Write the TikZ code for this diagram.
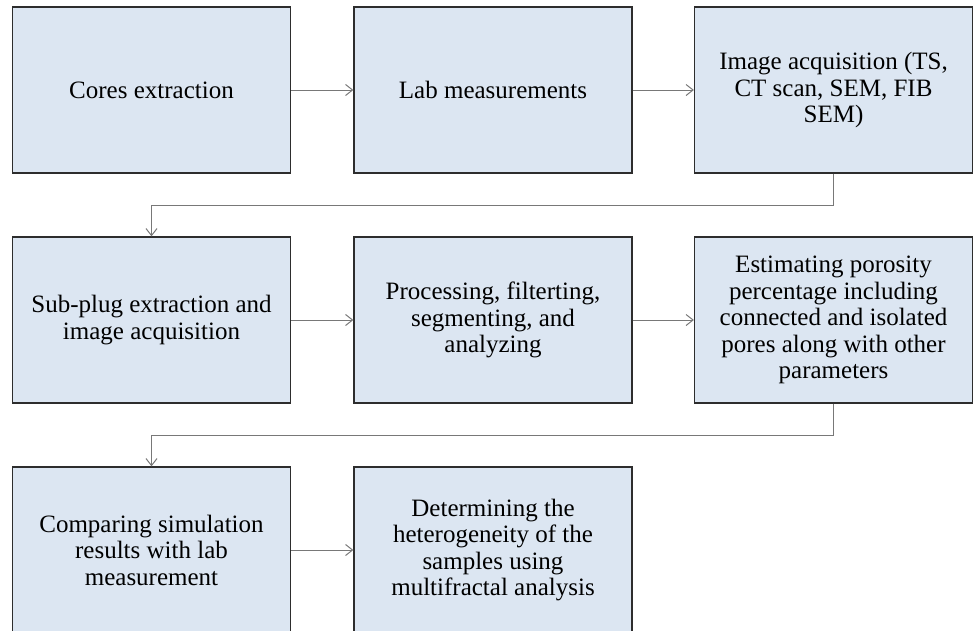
\documentclass[tikz,border=0pt]{standalone}
\usepackage{fontspec}
\setmainfont{Liberation Serif}
\usepackage{tikz}
\usetikzlibrary{arrows.meta, positioning, calc}
\definecolor{boxblue}{RGB}{220,230,242}
\definecolor{boxline}{RGB}{45,45,45}
\definecolor{flowgray}{RGB}{120,120,120}

\tikzset{
  procbox/.style={draw=boxline, fill=boxblue, line width=1.3pt, minimum width=278pt,
    minimum height=166pt, inner sep=0pt, align=center,
    font=\fontsize{25}{26.5}\selectfont},
  flow/.style={draw=flowgray, line width=1pt, -{Straight Barb[length=7pt, width=11pt]}}
}

\begin{document}
\begin{tikzpicture}[x=1pt, y=-1pt]
\useasboundingbox (0,0) rectangle (974,630);
\clip (0,0) rectangle (974,630);
\pgfmathsetmacro{\colA}{151.5}
\pgfmathsetmacro{\colB}{493}
\pgfmathsetmacro{\colC}{833.5}
\pgfmathsetmacro{\rowA}{90}
\pgfmathsetmacro{\rowB}{320}
\pgfmathsetmacro{\rowC}{550}

% first row
\node[procbox] (cores) at (\colA,\rowA) {Cores extraction};
\node[procbox] (lab) at (\colB,\rowA) {Lab measurements};
\node[procbox] (imaging) at (\colC,\rowA) {Image acquisition (TS,\\CT scan, SEM, FIB\\SEM)};

% second row
\node[procbox] (subplug) at (\colA,\rowB) {Sub-plug extraction and\\image acquisition};
\node[procbox] (process) at (\colB,\rowB) {Processing, filterting,\\segmenting, and\\analyzing};
\node[procbox] (porosity) at (\colC,\rowB) {Estimating porosity\\percentage including\\connected and isolated\\pores along with other\\parameters};

% third row
\node[procbox] (compare) at (\colA,\rowC) {Comparing simulation\\results with lab\\measurement};
\node[procbox] (hetero) at (\colB,\rowC) {Determining the\\heterogeneity of the\\samples using\\multifractal analysis};

\draw[flow] (cores) -- (lab);
\draw[flow] (lab) -- (imaging);
\draw[flow] (imaging.south) -- ++(0,32) -| (subplug.north);
\draw[flow] (subplug) -- (process);
\draw[flow] (process) -- (porosity);
\draw[flow] (porosity.south) -- ++(0,32) -| (compare.north);
\draw[flow] (compare) -- (hetero);

\end{tikzpicture}
\end{document}
